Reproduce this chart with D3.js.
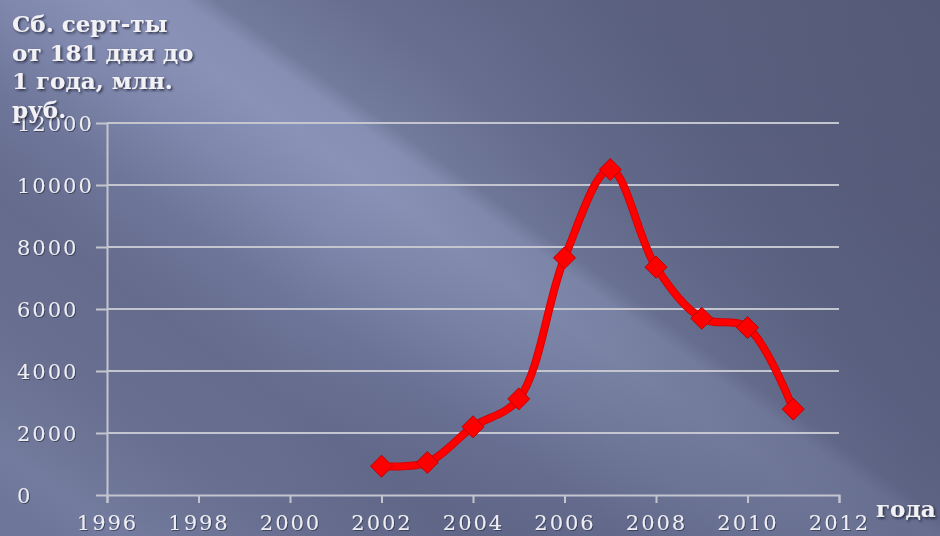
<!DOCTYPE html>
<html>
<head>
<meta charset="utf-8">
<script src="https://cdn.jsdelivr.net/npm/d3@7"></script>
<style>
  html, body { margin: 0; padding: 0; background: #5c6382; }
  svg { display: block; }
</style>
</head>
<body>
<div id="chart-area"></div>
<script>
// данные с графика
var years = [2002, 2003, 2004, 2005, 2006, 2007, 2008, 2009, 2010, 2011];
var values = [930, 1050, 2200, 3100, 7650, 10500, 7350, 5700, 5400, 2770];
var xTicks = [1996, 1998, 2000, 2002, 2004, 2006, 2008, 2010, 2012];
var yTicks = [0, 2000, 4000, 6000, 8000, 10000, 12000];
var titleLines = ["Сб. серт-ты", "от 181 дня до", "1 года, млн.", "руб."];
var xTitle = "года";

var W = 940, H = 536;
var margin = { left: 107, right: 101, top: 123, bottom: 41 };

var svg = d3.select("#chart-area").append("svg")
    .attr("width", W)
    .attr("height", H);

var defs = svg.append("defs");

// фон: диагональная светлая полоса из левого верхнего угла
var bg = defs.append("linearGradient")
    .attr("id", "bg")
    .attr("gradientUnits", "userSpaceOnUse")
    .attr("x1", 0).attr("y1", 500)
    .attr("x2", 614).attr("y2", -364);
[
  [-560, "#6e7699"],
  [-450, "#737b9e"],
  [-330, "#686f90"],
  [-200, "#646b8c"],
  [-90, "#6e769a"],
  [0, "#7f88ac"],
  [80, "#8a93b7"],
  [130, "#868fb3"],
  [152, "#737b9d"],
  [250, "#676e8f"],
  [420, "#5c6281"],
  [800, "#525873"]
].forEach(function(s) {
  bg.append("stop").attr("offset", (s[0] + 500) / 1300).attr("stop-color", s[1]);
});

// затемнение к правому нижнему углу
var dark = defs.append("radialGradient")
    .attr("id", "dark")
    .attr("gradientUnits", "userSpaceOnUse")
    .attr("cx", 900).attr("cy", 536).attr("r", 640);
dark.append("stop").attr("offset", 0).attr("stop-color", "#3e4360").attr("stop-opacity", 0.45);
dark.append("stop").attr("offset", 1).attr("stop-color", "#3e4360").attr("stop-opacity", 0);

var sh = defs.append("filter").attr("id", "shadow")
    .attr("x", "-10%").attr("y", "-20%").attr("width", "130%").attr("height", "150%");
sh.append("feDropShadow").attr("dx", 1.5).attr("dy", 1.5).attr("stdDeviation", 0.8)
    .attr("flood-color", "#1a1d2a").attr("flood-opacity", 0.8);

var sh2 = defs.append("filter").attr("id", "shadow2")
    .attr("x", "-10%").attr("y", "-20%").attr("width", "130%").attr("height", "150%");
sh2.append("feDropShadow").attr("dx", 1).attr("dy", 1).attr("stdDeviation", 0.6)
    .attr("flood-color", "#22263a").attr("flood-opacity", 0.6);

svg.append("rect").attr("width", W).attr("height", H).attr("fill", "url(#bg)");
svg.append("rect").attr("width", W).attr("height", H).attr("fill", "url(#dark)");

var x = d3.scaleLinear()
    .domain([1996, 2012])
    .range([margin.left, W - margin.right]);

var y = d3.scaleLinear()
    .domain([0, 12000])
    .range([H - margin.bottom, margin.top]);

// линии сетки
svg.append("g")
    .selectAll("line")
    .data(yTicks.filter(function(d) { return d > 0; }))
    .enter().append("line")
    .attr("x1", x(1996)).attr("x2", x(2012))
    .attr("y1", function(d) { return y(d); })
    .attr("y2", function(d) { return y(d); })
    .attr("stroke", "#c4c6cf")
    .attr("stroke-width", 2);

// ось Y
var yAxis = svg.append("g")
    .attr("transform", "translate(" + x(1996) + ",0)")
    .call(d3.axisLeft(y).tickValues(yTicks).tickSize(11).tickSizeOuter(0).tickFormat(d3.format("d")));

yAxis.selectAll("text")
    .attr("text-anchor", "start")
    .attr("x", 17 - x(1996))
    .attr("dy", "0.36em")
    .style("font-family", "'DejaVu Serif', serif")
    .style("font-size", "21px")
    .style("letter-spacing", "2px")
    .attr("fill", "#eeeef4")
    .attr("filter", "url(#shadow2)");

// ось X
var xAxis = svg.append("g")
    .attr("transform", "translate(0," + y(0) + ")")
    .call(d3.axisBottom(x).tickValues(xTicks).tickSize(8).tickFormat(d3.format("d")));

xAxis.selectAll("text")
    .attr("y", 35)
    .attr("dy", 0)
    .style("font-family", "'DejaVu Serif', serif")
    .style("font-size", "21px")
    .style("letter-spacing", "2px")
    .attr("fill", "#eeeef4")
    .attr("filter", "url(#shadow2)");

svg.selectAll(".domain, .tick line")
    .attr("stroke", "#c4c6cf")
    .attr("stroke-width", 2);

// линия
var line = d3.line()
    .x(function(d, i) { return x(years[i]); })
    .y(function(d) { return y(d); })
    .curve(d3.curveCatmullRom.alpha(0.5));

svg.append("path")
    .datum(values)
    .attr("d", line)
    .attr("fill", "none")
    .attr("stroke", "#d80000")
    .attr("stroke-width", 8)
    .attr("stroke-linejoin", "round");

svg.append("path")
    .datum(values)
    .attr("d", line)
    .attr("fill", "none")
    .attr("stroke", "#ff0000")
    .attr("stroke-width", 6)
    .attr("stroke-linejoin", "round");

// маркеры-ромбы
var r = 11;
svg.append("g")
    .selectAll("path")
    .data(values)
    .enter().append("path")
    .attr("transform", function(d, i) { return "translate(" + x(years[i]) + "," + y(d) + ")"; })
    .attr("d", "M0," + (-r) + "L" + r + ",0L0," + r + "L" + (-r) + ",0Z")
    .attr("fill", "#ff0000")
    .attr("stroke", "#c00000")
    .attr("stroke-width", 1);

// заголовок оси Y
svg.append("g")
    .attr("filter", "url(#shadow)")
    .selectAll("text")
    .data(titleLines)
    .enter().append("text")
    .attr("x", 12)
    .attr("y", function(d, i) { return 32 + i * 28.5; })
    .style("font-family", "'DejaVu Serif', serif")
    .style("font-weight", "bold")
    .style("font-size", "23px")
    .attr("fill", "#f2f2f6")
    .text(function(d) { return d; });

// подпись оси X
svg.append("text")
    .attr("x", 876)
    .attr("y", 517)
    .attr("filter", "url(#shadow)")
    .style("font-family", "'DejaVu Serif', serif")
    .style("font-weight", "bold")
    .style("font-size", "23px")
    .attr("fill", "#f2f2f6")
    .text(xTitle);
</script>
</body>
</html>
